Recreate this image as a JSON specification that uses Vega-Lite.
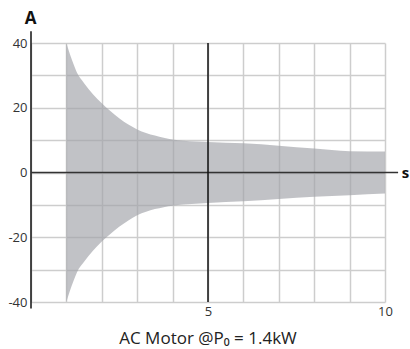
{
  "$schema": "https://vega.github.io/schema/vega-lite/v6.json",
  "width": 354,
  "height": 259,
  "autosize": "none",
  "padding": {"left": 31, "top": 43, "right": 25, "bottom": 47},
  "background": "white",
  "config": {"view": {"stroke": null}, "font": "Open Sans"},
  "title": {"text": "AC Motor @P₀ = 1.4kW", "orient": "bottom", "fontSize": 17, "fontWeight": "normal", "color": "#222", "font": "Open Sans", "offset": 13, "anchor": "middle"},
  "datasets": {
    "env": [
      {"t": 1.0, "hi": 40, "lo": -40},
      {"t": 1.1, "hi": 36.5, "lo": -36.5},
      {"t": 1.2, "hi": 33.5, "lo": -33.5},
      {"t": 1.3, "hi": 30.8, "lo": -30.8},
      {"t": 1.5, "hi": 27.6, "lo": -27.6},
      {"t": 1.75, "hi": 24.2, "lo": -24.2},
      {"t": 2.0, "hi": 21.4, "lo": -21.3},
      {"t": 2.25, "hi": 18.9, "lo": -18.9},
      {"t": 2.5, "hi": 16.7, "lo": -16.7},
      {"t": 2.75, "hi": 14.8, "lo": -14.8},
      {"t": 3.0, "hi": 13.3, "lo": -13.2},
      {"t": 3.25, "hi": 12.2, "lo": -12.1},
      {"t": 3.5, "hi": 11.4, "lo": -11.3},
      {"t": 3.75, "hi": 10.7, "lo": -10.7},
      {"t": 4.0, "hi": 10.2, "lo": -10.3},
      {"t": 4.3, "hi": 9.8, "lo": -9.9},
      {"t": 5.0, "hi": 9.4, "lo": -9.4},
      {"t": 6.0, "hi": 9.0, "lo": -8.9},
      {"t": 7.0, "hi": 8.3, "lo": -8.2},
      {"t": 8.0, "hi": 7.4, "lo": -7.5},
      {"t": 9.0, "hi": 6.6, "lo": -7.0},
      {"t": 10.0, "hi": 6.5, "lo": -6.5}
    ],
    "rules": [
      {"x": 0, "x2": 0, "y": -42, "y2": 43.6, "c": "#111"},
      {"x": 0, "x2": 10.37, "y": 0, "y2": 0, "c": "#333"},
      {"x": 5, "x2": 5, "y": -40, "y2": 40, "c": "#111"}
    ]
  },
  "layer": [
    {
      "data": {"name": "env"},
      "mark": {"type": "area", "color": "#a0a1a7", "opacity": 0.65, "interpolate": "monotone"},
      "encoding": {
        "x": {
          "field": "t", "type": "quantitative",
          "scale": {"domain": [0, 10], "nice": false},
          "axis": {
            "values": [0, 1, 2, 3, 4, 5, 6, 7, 8, 9, 10],
            "tickCount": 30,
            "labelExpr": "datum.value == 5 || datum.value == 10 ? '' + datum.value : ''",
            "labelOverlap": false, "labelFlush": false,
            "domain": false, "ticks": false,
            "grid": true, "gridColor": "#cdcdcd", "gridWidth": 1.5,
            "labelFontSize": 13, "labelColor": "#333", "labelPadding": 3, "labelFont": "Open Sans",
            "title": "s", "titleFontSize": 15, "titleFontWeight": "bold", "titleColor": "#111",
            "titleAngle": 0, "titleX": 374, "titleY": -130, "titleBaseline": "middle", "titleAlign": "center"
          }
        },
        "y": {
          "field": "hi", "type": "quantitative",
          "scale": {"domain": [-40, 40], "nice": false},
          "axis": {
            "values": [-40, -30, -20, -10, 0, 10, 20, 30, 40],
            "tickCount": 30,
            "labelExpr": "datum.value % 20 == 0 ? '' + datum.value : ''",
            "labelOverlap": false, "labelFlush": false,
            "domain": false, "ticks": false,
            "grid": true, "gridColor": "#cdcdcd", "gridWidth": 1.5,
            "labelFontSize": 13, "labelColor": "#333", "labelPadding": 4, "labelFont": "Open Sans",
            "title": "A", "titleFontSize": 17, "titleFontWeight": "bold", "titleColor": "#111",
            "titleAngle": 0, "titleX": -1, "titleY": -20, "titleBaseline": "alphabetic", "titleAlign": "center"
          }
        },
        "y2": {"field": "lo"}
      }
    },
    {
      "data": {"name": "rules"},
      "mark": {"type": "rule", "strokeWidth": 1.5, "clip": false},
      "encoding": {
        "x": {"field": "x", "type": "quantitative"},
        "x2": {"field": "x2"},
        "y": {"field": "y", "type": "quantitative"},
        "y2": {"field": "y2"},
        "color": {"field": "c", "type": "nominal", "scale": null}
      }
    }
  ]
}
